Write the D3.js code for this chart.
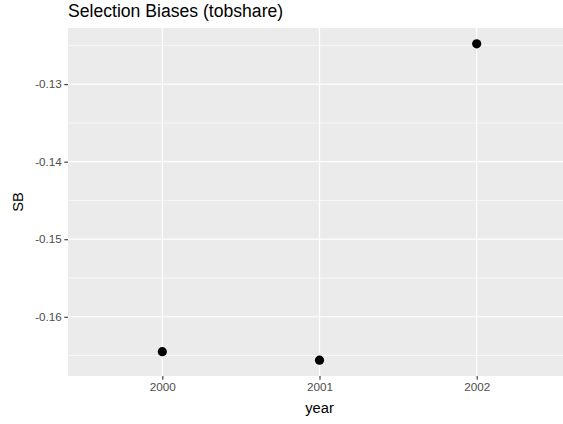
<!DOCTYPE html>
<html>
<head>
<meta charset="utf-8">
<script src="https://cdn.jsdelivr.net/npm/d3@7"></script>
<style>
  html, body { margin: 0; padding: 0; background: #fff; }
  svg { display: block; font-family: "Liberation Sans", Arial, sans-serif; }
</style>
</head>
<body>
<svg id="chart" width="563" height="424"></svg>
<script>
const years = ["2000", "2001", "2002"];
const sbValues = [-0.1645, -0.1656, -0.1248];
const yTicks = [-0.16, -0.15, -0.14, -0.13];
const yMinorTicks = [-0.165, -0.155, -0.145, -0.135, -0.125];
const titleText = "Selection Biases (tobshare)";
const xTitle = "year";
const yTitle = "SB";

const svg = d3.select("#chart");
const W = 563, H = 424;
const panel = { left: 68, right: 571, top: 28, bottom: 376 };

svg.append("rect").attr("width", W).attr("height", H).attr("fill", "#fff");

const x = d3.scalePoint().domain(years).range([panel.left, panel.right]).padding(0.6);
const ext = d3.extent(sbValues);
const pad = (ext[1] - ext[0]) * 0.05;
const y = d3.scaleLinear().domain([ext[0] - pad, ext[1] + pad]).range([panel.bottom, panel.top]);

const clipG = svg.append("g");
clipG.append("rect")
  .attr("x", panel.left).attr("y", panel.top)
  .attr("width", panel.right - panel.left).attr("height", panel.bottom - panel.top)
  .attr("fill", "#EBEBEB");

// minor gridlines
clipG.selectAll(".minor").data(yMinorTicks).enter().append("line")
  .attr("x1", panel.left).attr("x2", panel.right)
  .attr("y1", d => y(d)).attr("y2", d => y(d))
  .attr("stroke", "#fff").attr("stroke-width", 0.6);

// major gridlines
clipG.selectAll(".majy").data(yTicks).enter().append("line")
  .attr("x1", panel.left).attr("x2", panel.right)
  .attr("y1", d => y(d)).attr("y2", d => y(d))
  .attr("stroke", "#fff").attr("stroke-width", 1.2);
clipG.selectAll(".majx").data(years).enter().append("line")
  .attr("x1", d => x(d)).attr("x2", d => x(d))
  .attr("y1", panel.top).attr("y2", panel.bottom)
  .attr("stroke", "#fff").attr("stroke-width", 1.2);

// axes
const yAxis = d3.axisLeft(y).tickValues(yTicks).tickSize(3.7).tickPadding(2.5)
  .tickFormat(d => d3.format(".2f")(d).replace("−", "-"));
const gy = svg.append("g").attr("transform", `translate(${panel.left},0)`).call(yAxis);
gy.select(".domain").remove();
gy.selectAll(".tick line").attr("stroke", "#333333").attr("stroke-width", 1.1);
gy.selectAll(".tick text").attr("fill", "#4D4D4D").style("font-size", "11.7px")
  .style("font-family", "'Liberation Sans', Arial, sans-serif");

const xAxis = d3.axisBottom(x).tickSize(3.7).tickPadding(2.5);
const gx = svg.append("g").attr("transform", `translate(0,${panel.bottom})`).call(xAxis);
gx.select(".domain").remove();
gx.selectAll(".tick line").attr("stroke", "#333333").attr("stroke-width", 1.1);
gx.selectAll(".tick text").attr("fill", "#4D4D4D").style("font-size", "11.7px")
  .style("font-family", "'Liberation Sans', Arial, sans-serif");

// points
svg.selectAll(".pt").data(years.map((yr, i) => ({ yr, v: sbValues[i] }))).enter()
  .append("circle")
  .attr("cx", d => x(d.yr)).attr("cy", d => y(d.v))
  .attr("r", 4.6).attr("fill", "#000");

// titles
svg.append("text").attr("x", panel.left).attr("y", 17)
  .attr("fill", "#000").style("font-size", "17.6px").text(titleText);

svg.append("text").attr("x", (panel.left + panel.right) / 2).attr("y", 413)
  .attr("text-anchor", "middle").attr("fill", "#000").style("font-size", "14.7px").text(xTitle);

svg.append("text")
  .attr("transform", `translate(23,${(panel.top + panel.bottom) / 2}) rotate(-90)`)
  .attr("text-anchor", "middle").attr("fill", "#000").style("font-size", "14.7px").text(yTitle);
</script>
</body>
</html>
